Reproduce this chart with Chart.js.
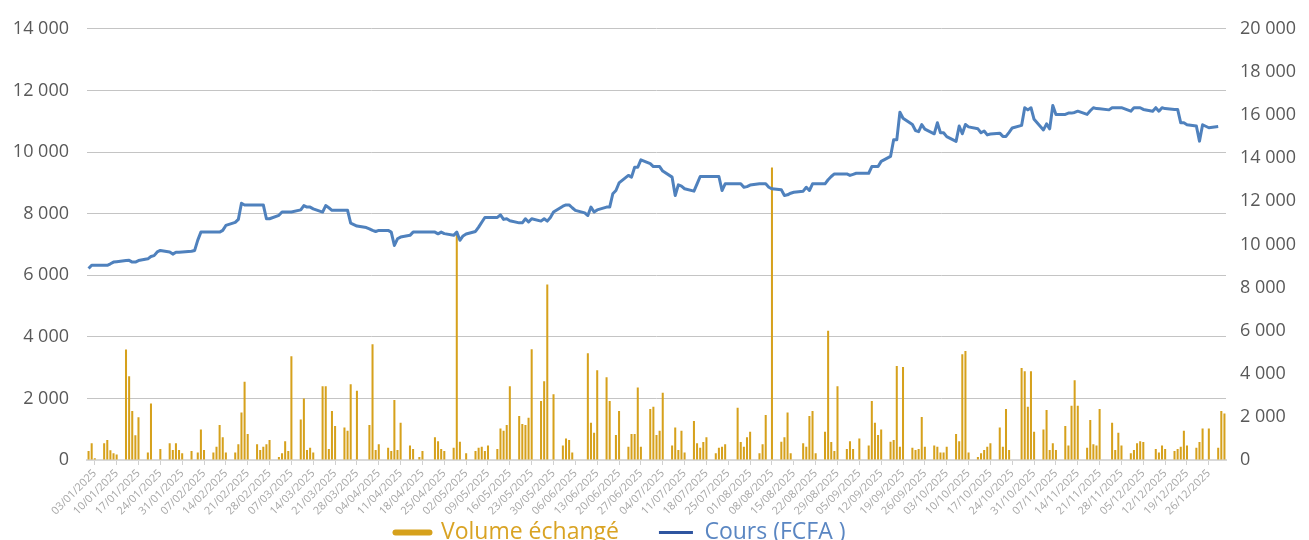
<!DOCTYPE html>
<html>
<head>
<meta charset="utf-8">
<title>Volume échangé et cours</title>
<script src="https://cdn.jsdelivr.net/npm/chart.js@4.4.1/dist/chart.umd.min.js"></script>
<style>
html, body { margin: 0; padding: 0; background: #ffffff; overflow: hidden; }
#wrap { width: 1309px; height: 588px; }
</style>
</head>
<body>
<div id="wrap"><canvas id="myChart" width="1309" height="588"></canvas></div>
<script>
// année affichée (une catégorie par jour calendaire)
var year = 2025;

// axes
var volumeMax = 14000;
var coursMax = 20000;
var tickStep = 2000;

// volume échangé, un chiffre par jour ouvré (lun-ven), du 01/01 au 31/12
var volume = [
	290, 540, 60,
	540, 650, 320, 220, 180,
	3585, 2720, 1590, 800, 1390,
	245, 1836, 0, 0, 356,
	540, 324, 540, 324, 216,
	292, 0, 245, 994, 324,
	245, 430, 1134, 735, 245,
	245, 508, 1545, 2538, 842,
	508, 324, 430, 508, 648,
	100, 216, 605, 292, 3370,
	1318, 2000, 324, 400, 245,
	2398, 2398, 356, 1588, 1102,
	1058, 950, 2462, 0, 2246,
	0, 1134, 3758, 324, 508,
	400, 292, 1944, 324, 1210,
	470, 356, 0, 100, 292,
	0, 735, 605, 356, 292,
	400, 7400, 594, 0, 216,
	292, 400, 430, 292, 470,
	356, 1026, 950, 1134, 2398,
	1426, 1166, 1134, 1372, 3596,
	1912, 2560, 5700, 0, 2138,
	470, 702, 648, 245, 0,
	0, 3467, 1210, 885, 2916,
	2689, 1912, 0, 810, 1588,
	430, 842, 842, 2354, 430,
	1652, 1728, 810, 950, 2181,
	470, 1058, 324, 950, 245,
	1264, 540, 400, 583, 735,
	216, 400, 430, 508, 0,
	1695, 583, 430, 735, 918,
	216, 508, 1458, 0, 9500,
	594, 735, 1545, 216, 0,
	540, 430, 1426, 1588, 216,
	918, 4200, 583, 292, 2398,
	356, 605, 356, 0, 702,
	470, 1912, 1210, 810, 994,
	594, 648, 3056, 430, 3020,
	400, 324, 356, 1393, 430,
	470, 430, 245, 245, 430,
	842, 605, 3434, 3542, 245,
	100, 216, 324, 430, 540,
	1058, 430, 1652, 324, 0,
	2990, 2880, 1728, 2880, 918,
	994, 1620, 324, 540, 324,
	1102, 470, 1760, 2592, 1760,
	400, 1296, 508, 470, 1652,
	0, 1210, 324, 885, 470,
	216, 324, 540, 605, 583,
	0, 356, 245, 470, 356,
	292, 356, 430, 950, 470,
	400, 583, 1026, 0, 1026,
	400, 1588, 1512
];

// cours (FCFA), un chiffre par jour ouvré
var cours = [
	8880, 9030, 9030, 9030, 9030, 9100, 9180, 9200, 9250, 9260,
	9180, 9180, 9250, 9330, 9440, 9480, 9650, 9720, 9650, 9550,
	9640, 9640, 9650, 9680, 9720, 10200, 10570, 10570, 10570, 10570,
	10570, 10650, 10880, 11020, 11160, 11910, 11830, 11830, 11830, 11830,
	11830, 11190, 11190, 11350, 11500, 11500, 11500, 11500, 11600, 11800,
	11730, 11730, 11650, 11500, 11800, 11700, 11580, 11580, 11580, 11580,
	10990, 10920, 10850, 10780, 10720, 10650, 10600, 10650, 10650, 10570,
	9950, 10260, 10340, 10420, 10570, 10570, 10570, 10570, 10570, 10570,
	10490, 10570, 10500, 10420, 10570, 10190, 10390, 10480, 10600, 10800,
	11030, 11250, 11250, 11250, 11370, 11160, 11190, 11100, 11000, 11000,
	11190, 11040, 11190, 11080, 11190, 11080, 11250, 11500, 11770, 11830,
	11830, 11700, 11580, 11460, 11340, 11730, 11500, 11600, 11730, 11730,
	12350, 12500, 12850, 13200, 13120, 13580, 13580, 13920, 13750, 13610,
	13610, 13610, 13400, 13120, 12270, 12760, 12700, 12580, 12470, 12810,
	13150, 13150, 13150, 13150, 13150, 12500, 12810, 12810, 12810, 12810,
	12650, 12680, 12750, 12810, 12810, 12810, 12650, 12580, 12530, 12270,
	12300, 12375, 12420, 12470, 12650, 12500, 12810, 12810, 12810, 13000,
	13150, 13270, 13270, 13270, 13200, 13250, 13300, 13300, 13300, 13610,
	13610, 13610, 13850, 14080, 14850, 14850, 16130, 15850, 15560, 15280,
	15230, 15560, 15350, 15130, 15640, 15180, 15180, 15000, 14780, 15490,
	15130, 15560, 15450, 15360, 15180, 15260, 15080, 15120, 15160, 15010,
	15010, 15200, 15400, 15520, 16340, 16240, 16340, 15800, 15310, 15590,
	15360, 16440, 16030, 16030, 16090, 16090, 16120, 16180, 16030, 16200,
	16340, 16300, 16290, 16240, 16340, 16340, 16340, 16340, 16180, 16340,
	16340, 16340, 16260, 16180, 16340, 16180, 16340, 16300, 16260, 16260,
	15640, 15640, 15550, 15490, 14790, 15550, 15480, 15410, 15470, null,
	null
];

var gold = '#D6A11C';
var goldText = '#D9A323';
var blue = '#4F81BD';
var darkBlue = '#2F55A0';
var blueText = '#5A86C2';

function pad2(n){
	return (n < 10 ? '0' : '') + n;
}

// 14000 -> "14 000"
function formatNombre(v){
	return String(v).replace(/\B(?=(\d{3})+(?!\d))/g, ' ');
}

// jours calendaires + valeurs placées sur les jours ouvrés
var jours = [];
var tickLabels = [];
var volJour = [];
var coursJour = [];
(function(){
	var d = new Date(Date.UTC(year, 0, 1));
	var w = 0;
	while (d.getUTCFullYear() === year) {
		var dow = d.getUTCDay();
		var txt = pad2(d.getUTCDate()) + '/' + pad2(d.getUTCMonth() + 1) + '/' + year;
		jours.push(txt);
		tickLabels.push(dow === 5 ? txt : '');
		if (dow === 0 || dow === 6) {
			volJour.push(null);
			coursJour.push(null);
		} else {
			volJour.push(volume[w] === undefined ? null : volume[w]);
			coursJour.push(cours[w] === undefined ? null : cours[w]);
			w++;
		}
		d.setUTCDate(d.getUTCDate() + 1);
	}
})();

// place la legende comme sur le modele (un peu a gauche, coupee en bas)
var legendPlace = {
	id: 'legendPlace',
	afterLayout: function(chart){
		var l = chart.legend;
		if (!l) return;
		var dy = 481 - l.top;
		l.top += dy; l.bottom += dy;
		l.left -= 34; l.right -= 34;
	}
};

Chart.defaults.font.family = "'Open Sans', 'Noto Sans', sans-serif";

var ctx = document.getElementById('myChart').getContext('2d');
var myChart = new Chart(ctx, {
	type: 'bar',
	data: {
		labels: jours,
		datasets: [{
			type: 'bar',
			label: 'Volume échangé',
			data: volJour,
			backgroundColor: gold,
			borderWidth: 0,
			barPercentage: 0.65,
			categoryPercentage: 1,
			yAxisID: 'y',
			order: 1
		}, {
			type: 'line',
			label: 'Cours (FCFA )',
			data: coursJour,
			borderColor: blue,
			borderWidth: 3,
			borderJoinStyle: 'round',
			pointRadius: 0,
			tension: 0,
			spanGaps: true,
			yAxisID: 'y1',
			order: 0
		}]
	},
	options: {
		responsive: false,
		animation: false,
		devicePixelRatio: 1,
		layout: { padding: { top: 28, left: 0, right: 0, bottom: 0 } },
		plugins: {
			tooltip: { enabled: false },
			legend: {
				position: 'bottom',
				align: 'center',
				labels: {
					usePointStyle: true,
					pointStyleWidth: 34,
					padding: 40,
					font: { size: 23 },
					generateLabels: function(chart){
						return [{
							text: 'Volume échangé',
							fillStyle: gold,
							strokeStyle: gold,
							lineWidth: 6,
							lineCap: 'round',
							pointStyle: 'line',
							fontColor: goldText,
							datasetIndex: 0,
							hidden: false
						}, {
							text: 'Cours (FCFA )',
							fillStyle: darkBlue,
							strokeStyle: darkBlue,
							lineWidth: 3,
							lineCap: 'butt',
							pointStyle: 'line',
							fontColor: blueText,
							datasetIndex: 1,
							hidden: false
						}];
					}
				}
			}
		},
		scales: {
			x: {
				offset: true,
				afterFit: function(scale){ scale.height = 55; },
				grid: {
					offset: false,
					drawOnChartArea: false,
					drawTicks: true,
					tickLength: 5,
					tickColor: function(c){ return tickLabels[c.index] ? '#d0d0d0' : 'rgba(0,0,0,0)'; }
				},
				border: { display: true, color: '#d9d9d9', width: 2 },
				ticks: {
					autoSkip: false,
					minRotation: 45,
					maxRotation: 45,
					padding: 2,
					color: '#a6a6a6',
					font: { size: 11 },
					callback: function(value, index){ return tickLabels[index]; }
				}
			},
			y: {
				position: 'left',
				min: 0,
				max: volumeMax,
				afterFit: function(scale){ scale.width = 87; },
				border: { display: false },
				grid: {
					drawTicks: false,
					color: function(c){ return c.tick && c.tick.value === 0 ? 'rgba(0,0,0,0)' : '#c4c4c4'; }
				},
				ticks: {
					stepSize: tickStep,
					padding: 18,
					color: '#595959',
					font: { size: 18 },
					callback: function(v){ return formatNombre(v); }
				}
			},
			y1: {
				position: 'right',
				min: 0,
				max: coursMax,
				afterFit: function(scale){ scale.width = 83; },
				border: { display: false },
				grid: { drawOnChartArea: false, drawTicks: false },
				ticks: {
					stepSize: tickStep,
					padding: 14,
					color: '#595959',
					font: { size: 18 },
					callback: function(v){ return formatNombre(v); }
				}
			}
		}
	},
	plugins: [legendPlace]
});
</script>
</body>
</html>
